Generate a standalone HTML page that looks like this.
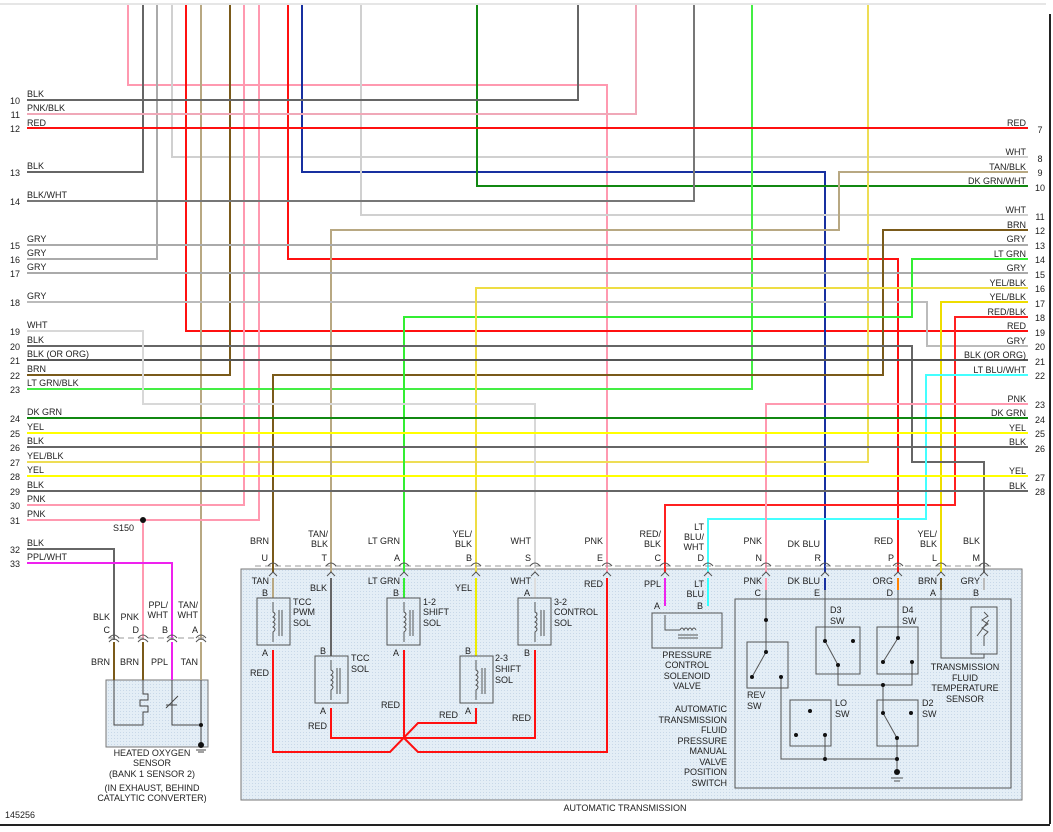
<!DOCTYPE html>
<html><head><meta charset="utf-8"><style>
html,body{margin:0;padding:0;background:#fff}
svg{display:block}
text{font-family:"Liberation Sans",sans-serif;font-size:9px;fill:#222}
.w{fill:none;stroke-width:2}
</style></head><body>
<svg width="1053" height="832" viewBox="0 0 1053 832" xmlns="http://www.w3.org/2000/svg">
<defs>
<pattern id="dots" width="3" height="3" patternUnits="userSpaceOnUse"><rect width="3" height="3" fill="#e4eef6"/><rect width="1" height="1" fill="#c8d8e8"/></pattern>
</defs>
<line x1="0" y1="4" x2="1046" y2="4" stroke="#ccc" stroke-width="1"/>
<line x1="1050" y1="14" x2="1050" y2="824" stroke="#222" stroke-width="2"/>
<line x1="0" y1="825" x2="1050" y2="825" stroke="#222" stroke-width="2"/>

<rect x="241" y="569" width="781" height="231" fill="url(#dots)" stroke="#777" stroke-width="1"/>
<rect x="735" y="599" width="276" height="189" fill="none" stroke="#555" stroke-width="1"/>
<rect x="106" y="680" width="102" height="67" fill="url(#dots)" stroke="#777" stroke-width="1"/>

<g class="w">
<polyline stroke="#ff99b0" points="128,5 128,85 607,85 607,572"/>
<polyline stroke="#666" points="143,5 143,172 27,172"/>
<polyline stroke="#aaa" points="157,5 157,259 27,259"/>
<polyline stroke="#d0d0d0" points="172,5 172,157 1028,157"/>
<polyline stroke="#ff1010" points="186,5 186,331 1028,331"/>
<polyline stroke="#b8a882" points="201,5 201,640"/>
<polyline stroke="#7a5a1a" points="230,5 230,375 27,375"/>
<polyline stroke="#ff99b0" points="244,5 244,505 27,505"/>
<polyline stroke="#ff99b0" points="259,5 259,520 27,520"/>
<polyline stroke="#ff99b0" points="143,520 143,640"/>
<polyline stroke="#ff1010" points="288,5 288,259 898,259 898,572"/>
<polyline stroke="#1830a0" points="302,5 302,172 825,172 825,572"/>
<polyline stroke="#d0d0d0" points="361,5 361,215 1028,215"/>
<polyline stroke="#118811" points="477,5 477,186 1028,186"/>
<polyline stroke="#666" points="578,5 578,100 27,100"/>
<polyline stroke="#f0a8b8" points="636,5 636,114 27,114"/>
<polyline stroke="#777" points="694,5 694,201 27,201"/>
<polyline stroke="#44ee44" points="752,5 752,389 27,389"/>
<polyline stroke="#eedd55" points="868,5 868,462 27,462"/>
<polyline stroke="#ff1010" points="27,128 1028,128"/>
<polyline stroke="#b8a882" points="1028,172 839,172 839,230 331,230 331,572"/>
<polyline stroke="#aaa" points="27,245 1028,245"/>
<polyline stroke="#aaa" points="27,273 1028,273"/>
<polyline stroke="#bbb" points="27,302 927,302 927,346 1028,346"/>
<polyline stroke="#7a5a1a" points="1028,230 883,230 883,375 273,375 273,572"/>
<polyline stroke="#33ee33" points="1028,259 912,259 912,317 404,317 404,572"/>
<polyline stroke="#eedd44" points="1028,288 476,288 476,572"/>
<polyline stroke="#eedd00" points="1028,302 941,302 941,572"/>
<polyline stroke="#ff2020" points="1028,317 955,317 955,505 665,505 665,572"/>
<polyline stroke="#666" points="27,346 912,346 912,462 984,462 984,572"/>
<polyline stroke="#555" points="27,360 1028,360"/>
<polyline stroke="#44ffff" points="1028,375 926,375 926,519 708,519 708,572"/>
<polyline stroke="#ff99b0" points="1028,404 766,404 766,572"/>
<polyline stroke="#d8d8d8" points="27,331 143,331 143,404 535,404 535,572"/>
<polyline stroke="#118811" points="27,418 1028,418"/>
<polyline stroke="#ffff00" points="27,433 1028,433"/>
<polyline stroke="#666" points="27,447 1028,447"/>
<polyline stroke="#ffff00" points="27,476 1028,476"/>
<polyline stroke="#666" points="27,491 1028,491"/>
<polyline stroke="#666" points="27,549 114,549 114,640"/>
<polyline stroke="#ee22ee" points="27,563 172,563 172,640"/>
</g>
<circle cx="143" cy="520" r="3" fill="#111"/>
<text x="113" y="531">S150</text>

<line x1="255" y1="566" x2="995" y2="566" stroke="#999" stroke-dasharray="6,4"/>
<line x1="108" y1="638" x2="207" y2="638" stroke="#999" stroke-dasharray="6,4"/>
<g fill="none" stroke="#555" stroke-width="1">
<path d="M268,566 q5,-6 10,0 M326,566 q5,-6 10,0 M399,566 q5,-6 10,0 M471,566 q5,-6 10,0 M530,566 q5,-6 10,0 M602,566 q5,-6 10,0 M660,566 q5,-6 10,0 M703,566 q5,-6 10,0 M761,566 q5,-6 10,0 M820,566 q5,-6 10,0 M893,566 q5,-6 10,0 M936,566 q5,-6 10,0 M979,566 q5,-6 10,0"/>
<path d="M109,638 q5,-6 10,0 M138,638 q5,-6 10,0 M167,638 q5,-6 10,0 M196,638 q5,-6 10,0 M109,642 q5,-6 10,0 M138,642 q5,-6 10,0 M167,642 q5,-6 10,0 M196,642 q5,-6 10,0"/>
<path d="M269,576 l4,-4 l4,4 M327,576 l4,-4 l4,4 M400,576 l4,-4 l4,4 M472,576 l4,-4 l4,4 M531,576 l4,-4 l4,4 M603,576 l4,-4 l4,4 M661,576 l4,-4 l4,4 M704,576 l4,-4 l4,4 M762,576 l4,-4 l4,4 M821,576 l4,-4 l4,4 M894,576 l4,-4 l4,4 M937,576 l4,-4 l4,4 M980,576 l4,-4 l4,4"/>
</g>

<g class="w">
<line x1="114" y1="642" x2="114" y2="680" stroke="#7a5a1a"/>
<line x1="143" y1="642" x2="143" y2="680" stroke="#7a5a1a"/>
<line x1="172" y1="642" x2="172" y2="680" stroke="#ee22ee"/>
<line x1="201" y1="642" x2="201" y2="680" stroke="#b8a882"/>
</g>
<g fill="none" stroke="#444" stroke-width="1">
<polyline points="114,680 114,725 143,725 143,712 148,712 148,706 140,706 140,700 148,700 148,694 143,694 143,680"/>
<polyline points="172,680 172,725 201,725 201,745"/>
<line x1="166" y1="708" x2="178" y2="696"/><line x1="166" y1="705" x2="177" y2="705"/>
<line x1="201" y1="680" x2="201" y2="725"/>
<line x1="196" y1="750" x2="206" y2="750"/><line x1="198" y1="752" x2="204" y2="752"/>
</g>
<circle cx="201" cy="725" r="2" fill="#111"/><circle cx="201" cy="745" r="3" fill="#111"/>

<g class="w">
<line x1="273" y1="578" x2="273" y2="598" stroke="#b8a882"/>
<line x1="331" y1="578" x2="331" y2="656" stroke="#666"/>
<line x1="404" y1="578" x2="404" y2="598" stroke="#33ee33"/>
<line x1="476" y1="578" x2="476" y2="656" stroke="#eeee00"/>
<line x1="535" y1="578" x2="535" y2="598" stroke="#ddd"/>
<line x1="665" y1="578" x2="665" y2="606" stroke="#ee22ee"/>
<line x1="708" y1="578" x2="708" y2="606" stroke="#33ffff"/>
<line x1="766" y1="578" x2="766" y2="590" stroke="#ff99b0"/>
<line x1="825" y1="578" x2="825" y2="590" stroke="#1830a0"/>
<line x1="898" y1="578" x2="898" y2="590" stroke="#ff8000"/>
<line x1="941" y1="578" x2="941" y2="590" stroke="#7a5a1a"/>
<line x1="984" y1="578" x2="984" y2="590" stroke="#bbb"/>
<polyline stroke="#ff1010" points="273,650 273,752 390,752 418,723 476,723 476,708"/>
<polyline stroke="#ff1010" points="331,708 331,738 535,738 535,650"/>
<polyline stroke="#ff1010" points="404,650 404,738"/>
<polyline stroke="#ff1010" points="404,738 418,752 607,752 607,578"/>
</g>
<g fill="none" stroke="#555" stroke-width="1">
<rect x="257" y="598" width="33" height="47"/>
<rect x="315" y="656" width="33" height="47"/>
<rect x="387" y="598" width="33" height="47"/>
<rect x="460" y="656" width="33" height="47"/>
<rect x="518" y="598" width="33" height="47"/>
<path d="M273,602 v10 q4,2 0,5 q4,2 0,5 q4,2 0,5 q4,2 0,5 v10 M279,610 v26 M282,610 v26"/>
<path d="M331,660 v10 q4,2 0,5 q4,2 0,5 q4,2 0,5 q4,2 0,5 v10 M337,668 v26 M340,668 v26"/>
<path d="M404,602 v10 q4,2 0,5 q4,2 0,5 q4,2 0,5 q4,2 0,5 v10 M410,610 v26 M413,610 v26"/>
<path d="M476,660 v10 q4,2 0,5 q4,2 0,5 q4,2 0,5 q4,2 0,5 v10 M482,668 v26 M485,668 v26"/>
<path d="M535,602 v10 q4,2 0,5 q4,2 0,5 q4,2 0,5 q4,2 0,5 v10 M541,610 v26 M544,610 v26"/>
<rect x="652" y="613" width="70" height="35"/>
<polyline points="665,615 665,630 680,630 M708,615 708,630 695,630"/>
<path d="M680,630 q2,-4 4,0 q2,-4 4,0 q2,-4 4,0 q2,-4 4,0 M678,635 h20 M678,638 h20"/>
<rect x="747" y="642" width="41" height="46"/>
<rect x="816" y="627" width="44" height="47"/>
<rect x="877" y="627" width="41" height="47"/>
<rect x="790" y="700" width="41" height="46"/>
<rect x="877" y="700" width="41" height="46"/>
<rect x="971" y="607" width="26" height="47"/>
<polyline points="766,590 766,652 752,677 M766,620 810,620 810,711 796,735"/>
<polyline points="781,677 781,759 825,759 825,735"/>
<polyline points="825,590 825,641 838,665 838,685 912,685 912,662"/>
<polyline points="898,590 898,638 883,662"/>
<polyline points="883,685 883,713 897,738 897,772"/>
<line x1="825" y1="759" x2="897" y2="759"/>
<polyline points="941,590 941,658 984,658 984,654 M984,590 984,612"/>
<path d="M984,612 l4,4 l-6,4 l6,4 l-6,4 l6,4 l-4,4 v10 M977,636 l12,-16"/>
<line x1="891" y1="778" x2="903" y2="778"/><line x1="894" y1="781" x2="900" y2="781"/>
</g>
<g fill="#111">
<circle cx="766" cy="620" r="2"/><circle cx="766" cy="652" r="2"/><circle cx="752" cy="677" r="2"/><circle cx="781" cy="677" r="2"/>
<circle cx="825" cy="641" r="2"/><circle cx="838" cy="665" r="2"/><circle cx="853" cy="641" r="2"/>
<circle cx="898" cy="638" r="2"/><circle cx="883" cy="662" r="2"/><circle cx="912" cy="662" r="2"/>
<circle cx="810" cy="711" r="2"/><circle cx="796" cy="735" r="2"/><circle cx="825" cy="735" r="2"/>
<circle cx="883" cy="713" r="2"/><circle cx="911" cy="713" r="2"/><circle cx="897" cy="738" r="2"/>
<circle cx="883" cy="685" r="2"/><circle cx="825" cy="759" r="2"/><circle cx="897" cy="759" r="2"/><circle cx="897" cy="772" r="3"/>
</g>

<g text-anchor="end">
<text x="20" y="104">10</text><text x="20" y="118">11</text><text x="20" y="132">12</text><text x="20" y="176">13</text><text x="20" y="205">14</text>
<text x="20" y="249">15</text><text x="20" y="263">16</text><text x="20" y="277">17</text><text x="20" y="306">18</text><text x="20" y="335">19</text>
<text x="20" y="350">20</text><text x="20" y="364">21</text><text x="20" y="379">22</text><text x="20" y="393">23</text><text x="20" y="422">24</text>
<text x="20" y="437">25</text><text x="20" y="451">26</text><text x="20" y="466">27</text><text x="20" y="480">28</text><text x="20" y="495">29</text>
<text x="20" y="509">30</text><text x="20" y="524">31</text><text x="20" y="553">32</text><text x="20" y="567">33</text>
</g>
<g>
<text x="27" y="97">BLK</text><text x="27" y="111">PNK/BLK</text><text x="27" y="126">RED</text><text x="27" y="169">BLK</text><text x="27" y="198">BLK/WHT</text>
<text x="27" y="242">GRY</text><text x="27" y="256">GRY</text><text x="27" y="270">GRY</text><text x="27" y="299">GRY</text><text x="27" y="328">WHT</text>
<text x="27" y="343">BLK</text><text x="27" y="357">BLK (OR ORG)</text><text x="27" y="372">BRN</text><text x="27" y="386">LT GRN/BLK</text><text x="27" y="415">DK GRN</text>
<text x="27" y="430">YEL</text><text x="27" y="444">BLK</text><text x="27" y="459">YEL/BLK</text><text x="27" y="473">YEL</text><text x="27" y="488">BLK</text>
<text x="27" y="502">PNK</text><text x="27" y="517">PNK</text><text x="27" y="546">BLK</text><text x="27" y="560">PPL/WHT</text>
</g>
<g text-anchor="end">
<text x="1026" y="126">RED</text><text x="1026" y="155">WHT</text><text x="1026" y="170">TAN/BLK</text><text x="1026" y="184">DK GRN/WHT</text>
<text x="1026" y="213">WHT</text><text x="1026" y="228">BRN</text><text x="1026" y="242">GRY</text><text x="1026" y="257">LT GRN</text><text x="1026" y="271">GRY</text>
<text x="1026" y="286">YEL/BLK</text><text x="1026" y="300">YEL/BLK</text><text x="1026" y="315">RED/BLK</text><text x="1026" y="329">RED</text><text x="1026" y="344">GRY</text>
<text x="1026" y="358">BLK (OR ORG)</text><text x="1026" y="373">LT BLU/WHT</text><text x="1026" y="402">PNK</text><text x="1026" y="416">DK GRN</text><text x="1026" y="431">YEL</text>
<text x="1026" y="445">BLK</text><text x="1026" y="474">YEL</text><text x="1026" y="489">BLK</text>
</g>
<g text-anchor="middle">
<text x="1040" y="133">7</text><text x="1040" y="162">8</text><text x="1040" y="176">9</text><text x="1040" y="191">10</text><text x="1040" y="220">11</text>
<text x="1040" y="234">12</text><text x="1040" y="249">13</text><text x="1040" y="263">14</text><text x="1040" y="278">15</text><text x="1040" y="292">16</text>
<text x="1040" y="307">17</text><text x="1040" y="321">18</text><text x="1040" y="336">19</text><text x="1040" y="350">20</text><text x="1040" y="365">21</text>
<text x="1040" y="379">22</text><text x="1040" y="408">23</text><text x="1040" y="423">24</text><text x="1040" y="437">25</text><text x="1040" y="452">26</text>
<text x="1040" y="481">27</text><text x="1040" y="495">28</text>
</g>

<g text-anchor="end">
<text x="269" y="544">BRN</text><text x="268" y="561">U</text>
<text x="328" y="537">TAN/</text><text x="328" y="547">BLK</text><text x="327" y="561">T</text>
<text x="400" y="544">LT GRN</text><text x="400" y="561">A</text>
<text x="472" y="537">YEL/</text><text x="472" y="547">BLK</text><text x="472" y="561">B</text>
<text x="531" y="544">WHT</text><text x="531" y="561">S</text>
<text x="603" y="544">PNK</text><text x="603" y="561">E</text>
<text x="661" y="537">RED/</text><text x="661" y="547">BLK</text><text x="661" y="561">C</text>
<text x="704" y="530">LT</text><text x="704" y="540">BLU/</text><text x="704" y="550">WHT</text><text x="704" y="561">D</text>
<text x="762" y="544">PNK</text><text x="762" y="561">N</text>
<text x="820" y="547">DK BLU</text><text x="821" y="561">R</text>
<text x="893" y="544">RED</text><text x="894" y="561">P</text>
<text x="937" y="537">YEL/</text><text x="937" y="547">BLK</text><text x="937" y="561">L</text>
<text x="980" y="544">BLK</text><text x="980" y="561">M</text>
<text x="110" y="620">BLK</text><text x="110" y="633">C</text>
<text x="139" y="620">PNK</text><text x="139" y="633">D</text>
<text x="168" y="608">PPL/</text><text x="168" y="618">WHT</text><text x="168" y="633">B</text>
<text x="198" y="608">TAN/</text><text x="198" y="618">WHT</text><text x="198" y="633">A</text>
<text x="110" y="665">BRN</text><text x="139" y="665">BRN</text><text x="168" y="665">PPL</text><text x="198" y="665">TAN</text>
<text x="269" y="584">TAN</text><text x="268" y="596">B</text>
<text x="327" y="591">BLK</text><text x="326" y="654">B</text>
<text x="400" y="584">LT GRN</text><text x="399" y="596">B</text>
<text x="472" y="591">YEL</text><text x="471" y="654">B</text>
<text x="531" y="584">WHT</text><text x="530" y="596">A</text>
<text x="268" y="656">A</text><text x="399" y="656">A</text><text x="530" y="656">B</text>
<text x="326" y="714">A</text><text x="471" y="714">A</text>
<text x="269" y="676">RED</text><text x="327" y="729">RED</text><text x="400" y="708">RED</text><text x="458" y="718">RED</text><text x="531" y="721">RED</text>
<text x="603" y="587">RED</text>
<text x="661" y="587">PPL</text><text x="660" y="609">A</text>
<text x="704" y="587">LT</text><text x="704" y="597">BLU</text><text x="703" y="609">B</text>
<text x="762" y="584">PNK</text><text x="761" y="596">C</text>
<text x="820" y="584">DK BLU</text><text x="820" y="596">E</text>
<text x="893" y="584">ORG</text><text x="893" y="596">D</text>
<text x="937" y="584">BRN</text><text x="936" y="596">A</text>
<text x="980" y="584">GRY</text><text x="979" y="596">B</text>
<text x="727" y="712">AUTOMATIC</text><text x="727" y="723">TRANSMISSION</text><text x="727" y="733">FLUID</text><text x="727" y="744">PRESSURE</text>
<text x="727" y="754">MANUAL</text><text x="727" y="765">VALVE</text><text x="727" y="775">POSITION</text><text x="727" y="786">SWITCH</text>
</g>
<g>
<text x="293" y="605">TCC</text><text x="293" y="615">PWM</text><text x="293" y="626">SOL</text>
<text x="351" y="661">TCC</text><text x="351" y="672">SOL</text>
<text x="423" y="605">1-2</text><text x="423" y="615">SHIFT</text><text x="423" y="626">SOL</text>
<text x="495" y="661">2-3</text><text x="495" y="672">SHIFT</text><text x="495" y="683">SOL</text>
<text x="554" y="605">3-2</text><text x="554" y="615">CONTROL</text><text x="554" y="626">SOL</text>
<text x="747" y="698">REV</text><text x="747" y="709">SW</text>
<text x="830" y="613">D3</text><text x="830" y="624">SW</text>
<text x="902" y="613">D4</text><text x="902" y="624">SW</text>
<text x="835" y="706">LO</text><text x="835" y="717">SW</text>
<text x="922" y="706">D2</text><text x="922" y="717">SW</text>
<text x="5" y="818">145256</text>
</g>
<g text-anchor="middle">
<text x="687" y="658">PRESSURE</text><text x="687" y="668">CONTROL</text><text x="687" y="679">SOLENOID</text><text x="687" y="689">VALVE</text>
<text x="965" y="670">TRANSMISSION</text><text x="965" y="681">FLUID</text><text x="965" y="691">TEMPERATURE</text><text x="965" y="702">SENSOR</text>
<text x="152" y="756">HEATED OXYGEN</text><text x="152" y="766">SENSOR</text><text x="152" y="777">(BANK 1 SENSOR 2)</text>
<text x="152" y="791">(IN EXHAUST, BEHIND</text><text x="152" y="801">CATALYTIC CONVERTER)</text>
<text x="625" y="811">AUTOMATIC TRANSMISSION</text>
</g>
</svg>
</body></html>
